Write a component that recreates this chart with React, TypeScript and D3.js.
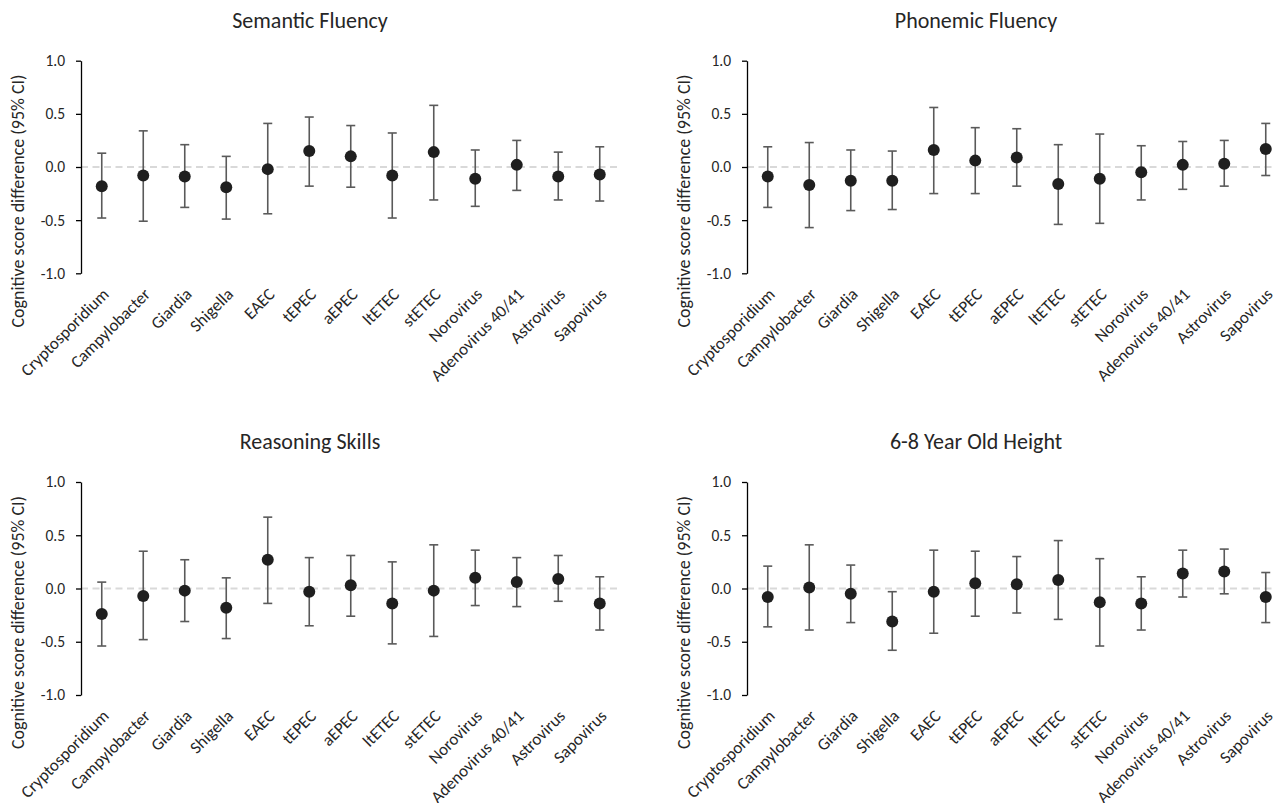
import React, { useEffect, useRef } from "react";
import * as d3 from "d3";

const categories = ["Cryptosporidium", "Campylobacter", "Giardia", "Shigella", "EAEC", "tEPEC", "aEPEC", "ltETEC", "stETEC", "Norovirus", "Adenovirus 40/41", "Astrovirus", "Sapovirus"];

const panelTitles = ["Semantic Fluency", "Phonemic Fluency", "Reasoning Skills", "6-8 Year Old Height"];

const semanticEst = [-0.18, -0.08, -0.09, -0.19, -0.02, 0.15, 0.10, -0.08, 0.14, -0.11, 0.02, -0.09, -0.07];
const semanticLow = [-0.48, -0.51, -0.38, -0.49, -0.44, -0.18, -0.19, -0.48, -0.31, -0.37, -0.22, -0.31, -0.32];
const semanticHigh = [0.13, 0.34, 0.21, 0.10, 0.41, 0.47, 0.39, 0.32, 0.58, 0.16, 0.25, 0.14, 0.19];

const phonemicEst = [-0.09, -0.17, -0.13, -0.13, 0.16, 0.06, 0.09, -0.16, -0.11, -0.05, 0.02, 0.03, 0.17];
const phonemicLow = [-0.38, -0.57, -0.41, -0.40, -0.25, -0.25, -0.18, -0.54, -0.53, -0.31, -0.21, -0.18, -0.08];
const phonemicHigh = [0.19, 0.23, 0.16, 0.15, 0.56, 0.37, 0.36, 0.21, 0.31, 0.20, 0.24, 0.25, 0.41];

const reasoningEst = [-0.24, -0.07, -0.02, -0.18, 0.27, -0.03, 0.03, -0.14, -0.02, 0.10, 0.06, 0.09, -0.14];
const reasoningLow = [-0.54, -0.48, -0.31, -0.47, -0.14, -0.35, -0.26, -0.52, -0.45, -0.16, -0.17, -0.12, -0.39];
const reasoningHigh = [0.06, 0.35, 0.27, 0.10, 0.67, 0.29, 0.31, 0.25, 0.41, 0.36, 0.29, 0.31, 0.11];

const heightEst = [-0.08, 0.01, -0.05, -0.31, -0.03, 0.05, 0.04, 0.08, -0.13, -0.14, 0.14, 0.16, -0.08];
const heightLow = [-0.36, -0.39, -0.32, -0.58, -0.42, -0.26, -0.23, -0.29, -0.54, -0.39, -0.08, -0.05, -0.32];
const heightHigh = [0.21, 0.41, 0.22, -0.03, 0.36, 0.35, 0.30, 0.45, 0.28, 0.11, 0.36, 0.37, 0.15];

const yTicks = [-1.0, -0.5, 0.0, 0.5, 1.0];
const yAxisLabel = "Cognitive score difference (95% CI)";

const FONT = "Carlito, Calibri, Lato, 'Open Sans', sans-serif";

export default function App() {
  const ref = useRef<SVGSVGElement | null>(null);

  useEffect(() => {
    const svg = d3.select(ref.current);
    svg.selectAll("*").remove();

    const panels = [
      { title: panelTitles[0], est: semanticEst, low: semanticLow, high: semanticHigh, ax: 81, top: 60.7, bottom: 273.3 },
      { title: panelTitles[1], est: phonemicEst, low: phonemicLow, high: phonemicHigh, ax: 747, top: 60.7, bottom: 273.3 },
      { title: panelTitles[2], est: reasoningEst, low: reasoningLow, high: reasoningHigh, ax: 81, top: 482, bottom: 695 },
      { title: panelTitles[3], est: heightEst, low: heightLow, high: heightHigh, ax: 747, top: 482, bottom: 695 },
    ];
    const plotW = 13 * 41.5;
    const fmt = d3.formatLocale({ decimal: ".", thousands: ",", grouping: [3], currency: ["", ""], minus: "-" }).format(".1f");

    panels.forEach((p) => {
      const g = svg.append("g");
      const x = d3.scaleBand<string>().domain(categories).range([p.ax, p.ax + plotW]).padding(0);
      const y = d3.scaleLinear().domain([-1, 1]).range([p.bottom, p.top]);
      const cx = (c: string) => (x(c) as number) + x.bandwidth() / 2;

      // title
      g.append("text")
        .attr("x", p.ax + 229)
        .attr("y", p.top - 33)
        .attr("text-anchor", "middle")
        .attr("font-family", FONT)
        .attr("font-size", 22)
        .attr("fill", "#262626")
        .text(p.title);

      // zero dashed line
      g.append("line")
        .attr("x1", p.ax)
        .attr("x2", p.ax + plotW)
        .attr("y1", y(0))
        .attr("y2", y(0))
        .attr("stroke", "#d9d9d9")
        .attr("stroke-width", 1.8)
        .attr("stroke-dasharray", "7,4.5");

      // y axis
      const axis = d3.axisLeft(y).tickValues(yTicks).tickFormat((d) => fmt(d as number)).tickSize(5).tickSizeOuter(0).tickPadding(11);
      const ag = g.append("g").attr("transform", `translate(${p.ax},0)`).call(axis);
      ag.select(".domain").attr("stroke", "#000").attr("stroke-width", 1.3);
      ag.selectAll(".tick line").attr("stroke", "#000").attr("stroke-width", 1.3);
      ag.selectAll(".tick text").attr("font-family", FONT).attr("font-size", 15.5).attr("fill", "#262626");

      // y axis label
      g.append("text")
        .attr("transform", `translate(${p.ax - 57},${(p.top + p.bottom) / 2 + 34}) rotate(-90)`)
        .attr("text-anchor", "middle")
        .attr("font-family", FONT)
        .attr("font-size", 18)
        .attr("fill", "#262626")
        .text(yAxisLabel);

      // category labels
      g.selectAll(".cat")
        .data(categories)
        .enter()
        .append("text")
        .attr("transform", (c) => `translate(${cx(c) + 8},${p.bottom + 22}) rotate(-45)`)
        .attr("text-anchor", "end")
        .attr("font-family", FONT)
        .attr("font-size", 17)
        .attr("fill", "#262626")
        .text((c) => c);

      const rows = categories.map((c, i) => ({ c, est: p.est[i], low: p.low[i], high: p.high[i] }));

      // error bars
      const eb = g.selectAll(".eb").data(rows).enter().append("g");
      eb.append("line")
        .attr("x1", (d) => cx(d.c))
        .attr("x2", (d) => cx(d.c))
        .attr("y1", (d) => y(d.low))
        .attr("y2", (d) => y(d.high))
        .attr("stroke", "#5a5a5a")
        .attr("stroke-width", 1.6);
      eb.append("line")
        .attr("x1", (d) => cx(d.c) - 4.5)
        .attr("x2", (d) => cx(d.c) + 4.5)
        .attr("y1", (d) => y(d.low))
        .attr("y2", (d) => y(d.low))
        .attr("stroke", "#5a5a5a")
        .attr("stroke-width", 1.6);
      eb.append("line")
        .attr("x1", (d) => cx(d.c) - 4.5)
        .attr("x2", (d) => cx(d.c) + 4.5)
        .attr("y1", (d) => y(d.high))
        .attr("y2", (d) => y(d.high))
        .attr("stroke", "#5a5a5a")
        .attr("stroke-width", 1.6);

      // points
      g.selectAll(".pt")
        .data(rows)
        .enter()
        .append("circle")
        .attr("cx", (d) => cx(d.c))
        .attr("cy", (d) => y(d.est))
        .attr("r", 6)
        .attr("fill", "#1f1f1f");
    });
  }, []);

  return (
    <svg
      ref={ref}
      width={1275}
      height={803}
      style={{ position: "absolute", left: 0, top: 0, background: "#fff" }}
    />
  );
}
